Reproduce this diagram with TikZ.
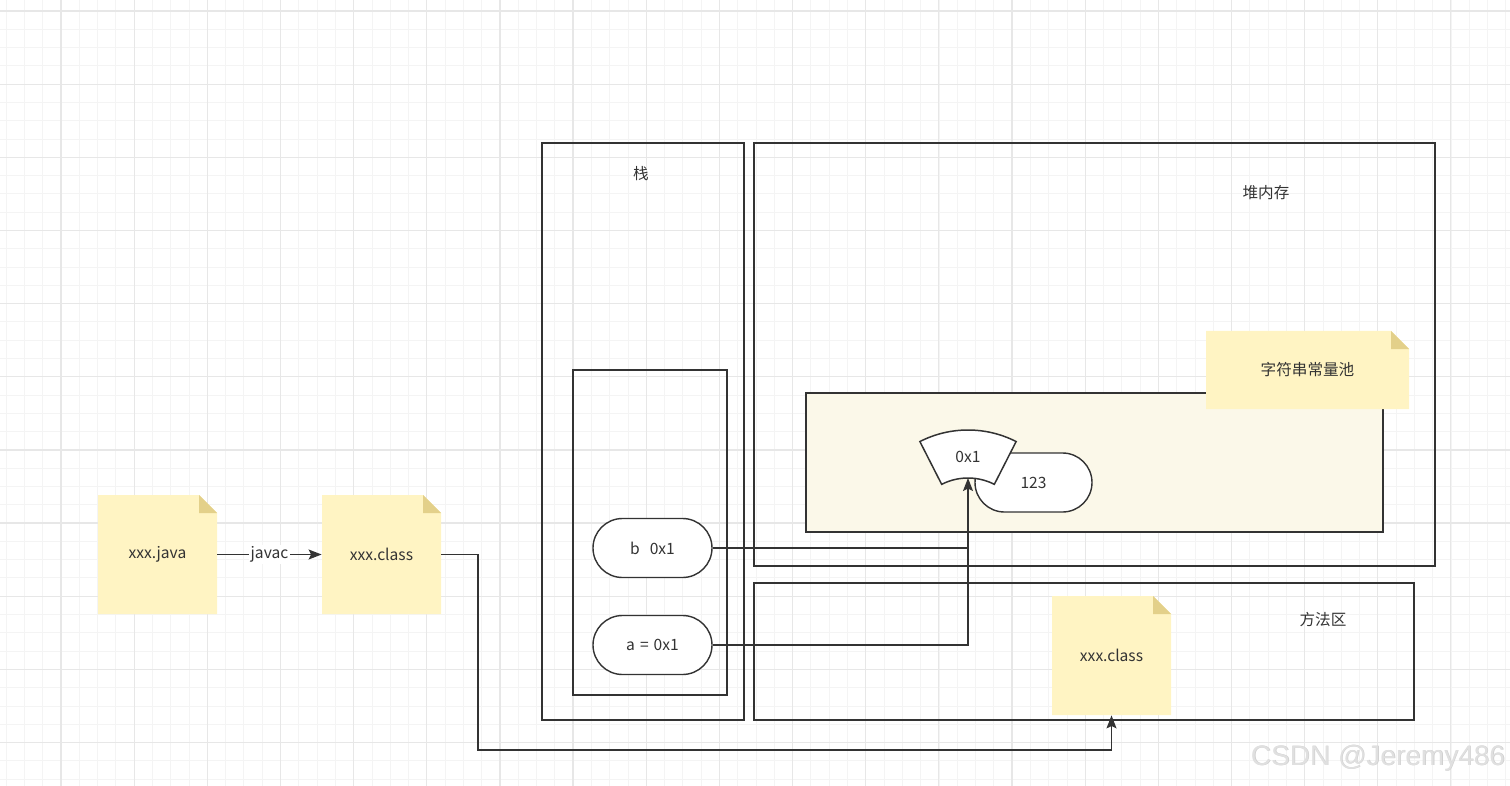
\documentclass[tikz,border=0pt]{standalone}
\usepackage{fontspec}
\setmainfont{Noto Sans CJK SC}
\setsansfont{Liberation Sans}
\usetikzlibrary{arrows.meta,shapes.misc,calc}
\definecolor{ink}{RGB}{51,51,51}
\definecolor{notefill}{RGB}{255,244,195}
\definecolor{foldfill}{RGB}{227,208,138}
\definecolor{poolfill}{RGB}{251,248,233}
\definecolor{gridminor}{RGB}{244,244,244}
\definecolor{gridmajor}{RGB}{231,231,231}
\tikzset{
  lbl/.style={font=\fontsize{7.8}{9}\selectfont, text=ink},
  notebox/.style={lbl, minimum width=59.5pt, minimum height=59.5pt, inner sep=0pt},
  varbox/.style={lbl, rounded rectangle, draw=ink, line width=0.7pt, fill=white, minimum width=59.5pt, minimum height=29.5pt, inner sep=0pt},
  frame/.style={draw=ink, line width=0.7pt},
  conn/.style={draw=ink, line width=0.75pt},
  tipped/.style={conn, -{Stealth[inset=1.2pt, length=6.5pt, width=5pt]}},
}
\begin{document}
\begin{tikzpicture}[x=0.5pt, y=-0.5pt]
  \useasboundingbox (0,0) rectangle (1510,786);
  % grid
  \foreach \i in {0,...,82} \draw[gridminor, line width=0.5pt] ({6.2+18.29*\i},0) -- ++(0,786);
  \foreach \i in {0,...,42} \draw[gridminor, line width=0.5pt] (0,{11+18.29*\i}) -- ++(1510,0);
  \foreach \i in {0,...,19} \draw[gridmajor, line width=0.6pt] ({61+73.15*\i},0) -- ++(0,786);
  \foreach \i in {0,...,10} \draw[gridmajor, line width=0.6pt] (0,{11+73.15*\i}) -- ++(1510,0);

  % stack / heap / method area
  \draw[frame] (542,143) rectangle (744,720);
  \draw[frame] (573,370) rectangle (727,695);
  \draw[frame] (754,143) rectangle (1435,566);
  \draw[frame, fill=poolfill] (806,393) rectangle (1383,532);
  \draw[frame] (754,583) rectangle (1414,720);
  \node[lbl] (stacklbl) at (641,174) {栈};
  \node[lbl] (heaplbl) at (1266,193) {堆内存};
  \node[lbl] (methodlbl) at (1323,620) {方法区};

  % notes
  \fill[notefill] (98,495) -- (199,495) -- (217,513) -- (217,614) -- (98,614) -- cycle;
  \fill[foldfill] (199,495) -- (199,513) -- (217,513) -- cycle;
  \fill[notefill] (322,495) -- (423,495) -- (441,513) -- (441,614) -- (322,614) -- cycle;
  \fill[foldfill] (423,495) -- (423,513) -- (441,513) -- cycle;
  \fill[notefill] (1206,331) -- (1391,331) -- (1409,349) -- (1409,409) -- (1206,409) -- cycle;
  \fill[foldfill] (1391,331) -- (1391,349) -- (1409,349) -- cycle;
  \fill[notefill] (1052,596) -- (1153,596) -- (1171,614) -- (1171,715) -- (1052,715) -- cycle;
  \fill[foldfill] (1153,596) -- (1153,614) -- (1171,614) -- cycle;
  \node[notebox] (java) at (157.5,554.5) {xxx.java};
  \node[notebox] (cls) at (381.5,554.5) {xxx.class};
  \node[notebox] (mcls) at (1111.5,655.5) {xxx.class};
  \node[lbl] (pool) at (1307.5,370) {字符串常量池};

  % variables
  \node[varbox] (b) at (652.5,548) {b\hspace{5pt}0x1};
  \node[varbox] (a) at (652.5,645) {a\hspace{2.5pt}=\hspace{2.5pt}0x1};
  \node[varbox, minimum width=58.5pt] (val) at (1033.5,482.5) {123};

  % 0x1 sector
  \coordinate (sc) at (968,536);
  \coordinate (tip) at (968,478);
  \draw[conn, fill=white] ($(sc)+(-117:106)$) arc[start angle=-117, end angle=-63, radius=106]
    -- ($(sc)+(-63:58)$) arc[start angle=-63, end angle=-117, radius=58] -- cycle;
  \node[lbl] (ref) at (968,457) {0x1};

  % connectors
  \draw[tipped] (java) -- (cls) node[midway, lbl, fill=white, inner sep=1pt] (javac) {javac};
  \coordinate (turn) at (478,750);
  \draw[tipped] (cls.east) -| (turn) -| (mcls.south);
  \draw[conn] (b.east) -- (b.east -| tip);
  \draw[tipped] (a.east) -| (tip);

  % watermark
  \node[font=\sffamily\fontsize{14}{14}\selectfont, text=gray!40] at (1378.6,758.6) {CSDN @Jeremy486};
  \node[font=\sffamily\fontsize{14}{14}\selectfont, text=white!88!black] (mark) at (1378,758) {CSDN @Jeremy486};
\end{tikzpicture}
\end{document}
